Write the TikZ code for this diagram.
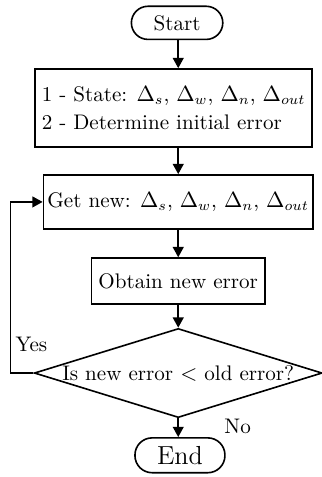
\documentclass[tikz,border=0pt]{standalone}
\usepackage{amsmath,amssymb}
\usepackage{tikz}
\usetikzlibrary{arrows.meta,positioning,shapes.geometric,calc}

\begin{document}
\begin{tikzpicture}[>={Triangle[length=1.8mm,width=1.9mm]}, thick,
  font=\fontsize{10.5pt}{13pt}\selectfont,
  term/.style={rectangle, rounded corners=2.9mm, draw=black, thick,
               minimum width=1.6cm, minimum height=5.8mm, inner sep=2pt},
  proc/.style={rectangle, draw=black, thick, inner sep=2pt},
  dec/.style={diamond, draw=black, thick, aspect=3.25, inner xsep=-5pt, inner ysep=0pt,
              minimum width=5.04cm, minimum height=1.56cm}]
  \useasboundingbox (0,0) rectangle (5.635,-8.35);
  \node[term] (start) at (3.1,-0.40) {Start};
  \node[proc, align=left, minimum width=4.85cm, minimum height=1.365cm] (init) at (3.04,-1.89)
    {1 - State: $\Delta_s$, $\Delta_w$, $\Delta_n$, $\Delta_{out}$\\[1pt] 2 - Determine initial error};
  \node[proc, minimum width=4.67cm, minimum height=0.945cm] (getnew) at (3.12,-3.535)
    {Get new: $\Delta_s$, $\Delta_w$, $\Delta_n$, $\Delta_{out}$};
  \node[proc, minimum width=3.03cm, minimum height=0.805cm] (obtain) at (3.12,-4.92) {Obtain new error};
  \node[dec] (check) at (3.12,-6.53) {Is new error $<$ old error?};
  \node[term, font=\fontsize{13pt}{15pt}\selectfont, minimum width=1.575cm, minimum height=6.1mm,
    rounded corners=3mm] (stop) at (3.15,-7.97) {End};
  \draw[->] (start.south -| getnew) -- (init.north -| getnew);
  \draw[->] (init.south -| getnew) -- (getnew);
  \draw[->] (getnew) -- (obtain); \draw[->] (obtain) -- (check);
  \draw[->] (check) -- (check |- stop.north);
  \draw[->] (check.west) -- ++(-0.4,0) |- (getnew.west);
  \node (yes) at (0.55,-6.03) {Yes};
  \node (no) at (4.16,-7.47) {No};
\end{tikzpicture}
\end{document}
